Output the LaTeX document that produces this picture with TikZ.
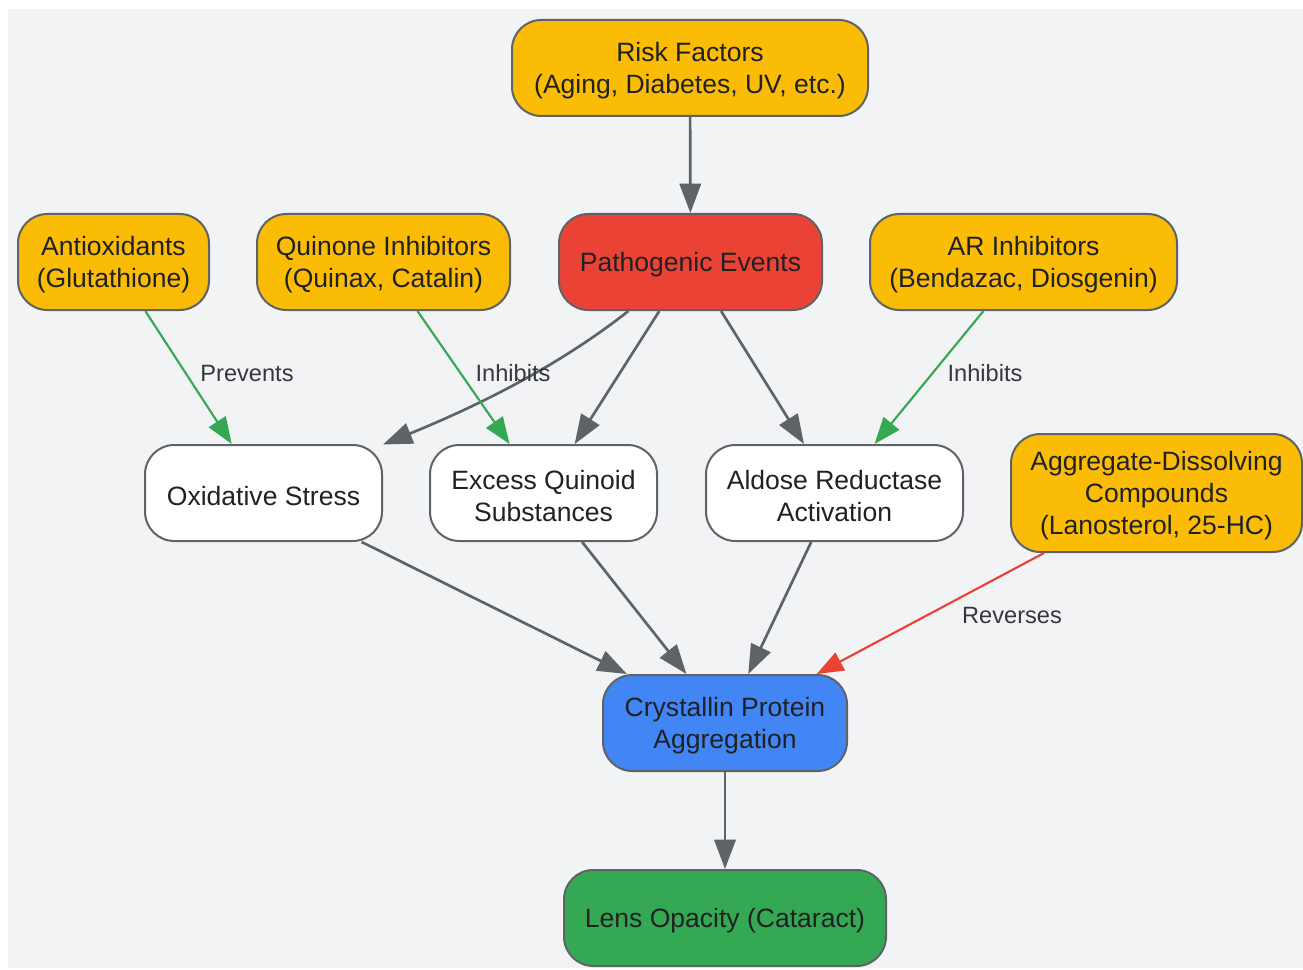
\documentclass[tikz,border=0pt]{standalone}
\usepackage{fontspec}
\setmainfont{Liberation Sans}
\usetikzlibrary{arrows.meta}
\definecolor{bg}{HTML}{F1F3F5}
\definecolor{bordergray}{HTML}{5F6368}
\definecolor{txt}{HTML}{202124}
\definecolor{gyellow}{HTML}{FBBC05}
\definecolor{gred}{HTML}{EA4335}
\definecolor{gblue}{HTML}{4285F4}
\definecolor{ggreen}{HTML}{34A853}
\tikzset{
  box/.style={draw=bordergray, line width=1.5pt, rounded corners=22pt, inner sep=0pt},
  yel/.style={box, fill=gyellow},
  wht/.style={box, fill=white},
  ntext/.style={align=center, inner sep=0pt, text=txt, font=\fontsize{19.9}{24}\selectfont},
  flow/.style={draw=bordergray, line width=2pt, -{Triangle[length=22pt,width=16pt]}},
  helps/.style={draw=ggreen, line width=1.6pt, -{Triangle[length=20pt,width=15pt]}},
  rev/.style={draw=gred, line width=1.6pt, -{Triangle[length=20pt,width=15pt]}},
  lbl/.style={text=txt!90, font=\fontsize{17.7}{21}\selectfont, inner sep=0pt}
}
\newcommand\boxtext[2]{\node[ntext] (#1-t) at ([yshift=-2.3pt]#1.center) {#2};}
\begin{document}
\begin{tikzpicture}[x=0.75pt,y=-0.75pt]
\useasboundingbox (0,0) rectangle (1303,970);
\fill[bg] (8,9) rectangle (1303,968);
\node[yel, minimum width=267pt, minimum height=72pt] (risk) at (690,68) {};
\node[yel, minimum width=143.25pt, minimum height=72pt] (anti) at (113.5,262) {};
\node[yel, minimum width=189.75pt, minimum height=72pt] (quin) at (383.5,262) {};
\node[box, fill=gred, minimum width=197.25pt, minimum height=72pt] (path) at (690.5,262) {};
\node[yel, minimum width=230.25pt, minimum height=72pt] (ari) at (1023.5,262) {};
\node[wht, minimum width=177.75pt, minimum height=72pt] (oxi) at (263.5,493) {};
\node[wht, minimum width=170.25pt, minimum height=72pt] (exq) at (543.5,493) {};
\node[wht, minimum width=192.75pt, minimum height=72pt] (ald) at (834.5,493) {};
\node[yel, minimum width=218.25pt, minimum height=88.5pt] (agg) at (1156.5,493) {};
\node[box, fill=gblue, minimum width=183pt, minimum height=72pt] (cry) at (725,723) {};
\node[box, fill=ggreen, minimum width=241.5pt, minimum height=72pt] (lens) at (725,918) {};

\boxtext{risk}{Risk Factors\\(Aging, Diabetes, UV, etc.)}
\boxtext{anti}{Antioxidants\\(Glutathione)}
\boxtext{quin}{Quinone Inhibitors\\(Quinax, Catalin)}
\boxtext{path}{Pathogenic Events}
\boxtext{ari}{AR Inhibitors\\(Bendazac, Diosgenin)}
\boxtext{oxi}{Oxidative Stress}
\boxtext{exq}{Excess Quinoid\\Substances}
\boxtext{ald}{Aldose Reductase\\Activation}
\boxtext{agg}{Aggregate-Dissolving\\Compounds\\(Lanosterol, 25-HC)}
\boxtext{cry}{Crystallin Protein\\Aggregation}
\boxtext{lens}{Lens Opacity (Cataract)}

\draw[flow] (risk) -- (path);
\draw[flow] (path) .. controls (560,365) and (480,405) .. (oxi);
\draw[flow] (path) -- (exq);
\draw[flow] (path) -- (ald);
\draw[helps] (anti) -- (oxi);
\draw[helps] (quin) -- (exq);
\draw[helps] (ari) -- (ald);
\draw[flow] (oxi) -- (cry);
\draw[flow] (exq) -- (cry);
\draw[flow] (ald) -- (cry);
\draw[rev] (agg) -- (cry);
\draw[flow] (cry) -- (lens);

\node[lbl] (l1) at (247,373) {Prevents};
\node[lbl] (l2) at (513,373) {Inhibits};
\node[lbl] (l3) at (985,373) {Inhibits};
\node[lbl] (l4) at (1012,615) {Reverses};
\end{tikzpicture}
\end{document}
